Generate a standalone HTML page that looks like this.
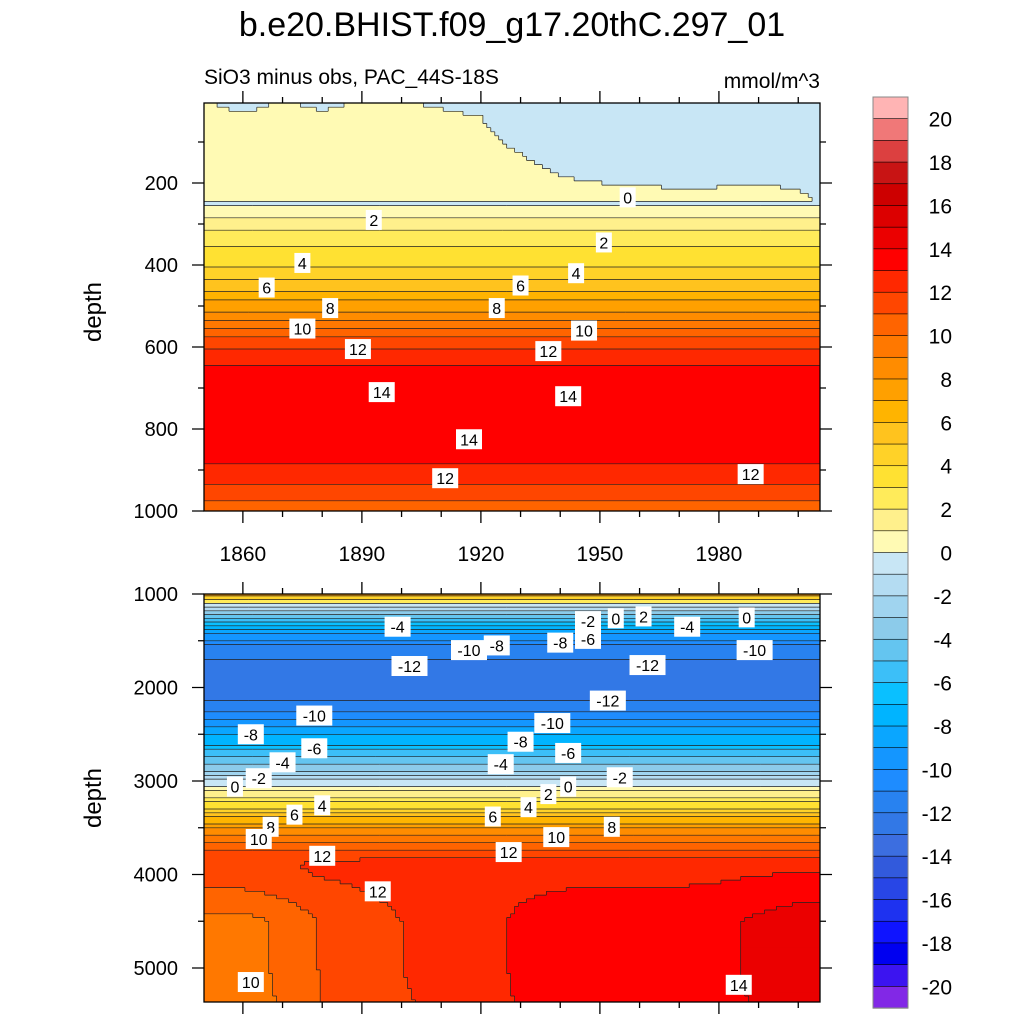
<!DOCTYPE html>
<html><head><meta charset="utf-8"><style>
body{margin:0;background:#fff}
svg{display:block;font-family:"Liberation Sans",Arial,sans-serif}
</style></head><body>
<svg id="chart" width="1024" height="1024" viewBox="0 0 1024 1024" xmlns="http://www.w3.org/2000/svg">
<text x="512" y="36" font-size="34" text-anchor="middle">b.e20.BHIST.f09_g17.20thC.297_01</text>
<text x="204" y="84" font-size="21">SiO3 minus obs, PAC_44S-18S</text>
<text x="820" y="88" font-size="21" text-anchor="end">mmol/m^3</text>
<text x="0" y="0" font-size="24" text-anchor="middle" transform="translate(101,312) rotate(-90)">depth</text>
<text x="0" y="0" font-size="24" text-anchor="middle" transform="translate(101,798) rotate(-90)">depth</text>
<defs>
<clipPath id="clipTop"><rect x="204" y="103" width="616" height="408"/></clipPath>
<clipPath id="clipBot"><rect x="204" y="594" width="616" height="408"/></clipPath>
</defs>
<g id="topField" clip-path="url(#clipTop)"></g>
<g id="botField" clip-path="url(#clipBot)"></g>
<g id="labels"></g>
<g id="axes"></g>
<g id="colorbar"></g>
</svg>
<script>
// ---- data ----
const topDepths = [0,100,150,200,250,300,350,400,450,500,550,600,650,700,750,800,850,900,950,1000];
const topValues = [0.4,0.3,0.25,0.15,0.0,1.6,3.0,4.0,5.6,7.4,9.8,11.9,13.2,13.7,13.8,13.8,13.6,12.8,11.6,10.6];
const blueYears = [1850,1860,1870,1880,1890,1900,1910,1920,1925,1930,1940,1950,1960,1970,1980,1990,2000,2005];
const blueDepth = [0,30,0,25,0,0,20,40,100,130,185,200,205,215,210,205,215,250];
const botDepths = [1000,1050,1100,1150,1200,1300,1400,1500,1600,1700,1800,1900,2000,2100,2200,2300,2400,2500,2600,2700,2800,2900,3000,3100,3200,3300,3400,3500,3600,3700,3800,3900,4000,4500,5000,5365];
const botValues = [8,4,1,-1.5,-3,-5.5,-8.5,-10.3,-11.5,-12,-12.5,-12.8,-12.7,-12.3,-11.5,-10.6,-9.4,-8.2,-7,-5.6,-4.2,-2.8,-0.9,0.8,2.4,4.4,6.3,7.9,9.3,10.6,11.9,12.3,12.5,12.6,12.6,12.5];
const deepYears = [1850,1860,1870,1880,1890,1900,1910,1920,1930,1940,1950,1960,1970,1980,1990,2000,2005];
const deepAnom = [-3.0,-3.0,-2.4,-1.5,-1.0,-0.6,-0.3,0,0.6,0.9,1.0,1.0,1.0,1.2,1.6,2.0,2.0];
const cbLabels = [20,18,16,14,12,10,8,6,4,2,0,-2,-4,-6,-8,-10,-12,-14,-16,-18,-20];
const colors = ["#ffb4b4","#f07878","#dc4040","#c81414","#cd0000","#dc0000","#eb0000","#ff0000","#ff2800","#ff4600","#ff6400","#ff7800","#ff8c00","#ffa000","#ffb400","#ffc31e","#ffd228","#ffe132","#ffeb5a","#fff08c","#fffab4",
"#c8e6f5","#b4dcf2","#a0d4ef","#8ccbea","#64c5f0","#3cbff8","#0ac0ff","#00b4ff","#0aa6ff","#1496ff","#1e8cff","#2882f0","#3278e6","#3c6ee0","#325adc","#2846e6","#1e32f0","#0f14ff","#0000f0","#3c14f0","#8228e6"];
const topLabelText = ["0","2","2","4","4","6","6","8","8","10","10","12","12","14","14","14","12","12"];
const topLabelYear = [1957,1893,1951,1875,1944,1866,1930,1882,1924,1875,1946,1889,1937,1895,1942,1917,1911,1988];
const topLabelDepth = [235,290,345,395,420,455,450,505,505,555,560,605,610,710,720,825,920,910];
const botLabelText = ["-4","-2","0","2","-4","0","-8","-10","-8","-6","-10","-12","-12","-12","-10","-10","-8","-6","-4","-2","0","-8","-6","-4","-2","0","2","4","6","4","6","8","10","8","10","12","12","12","10","14"];
const botLabelYear = [1899,1947,1954,1961,1972,1987,1924,1917,1940,1947,1989,1902,1962,1952,1878,1938,1862,1878,1870,1864,1858,1930,1942,1925,1955,1942,1937,1880,1873,1932,1923,1867,1864,1953,1939,1880,1927,1894,1862,1985];
const botLabelDepth = [1350,1290,1260,1240,1350,1250,1550,1600,1520,1480,1600,1770,1760,2140,2300,2380,2500,2650,2800,2970,3060,2580,2700,2820,2960,3060,3140,3260,3360,3280,3380,3490,3620,3490,3600,3800,3760,4180,5150,5180];

// ---- scales ----
const X0=204, X1=820;
function xs(yr){return X0+(yr-1850.2)*3.967;}
function yTop(d){return 101+d*0.41;}
function yBot(d){return 594+(d-1000)*0.0935;}
function interp(xa,ya,x){
  if(x<=xa[0])return ya[0];
  for(let i=1;i<xa.length;i++){if(x<=xa[i]){const t=(x-xa[i-1])/(xa[i]-xa[i-1]);return ya[i-1]+t*(ya[i]-ya[i-1]);}}
  return ya[ya.length-1];
}
function bin(v){let k=Math.floor(21-v);return Math.max(0,Math.min(41,k));}
const NS="http://www.w3.org/2000/svg";
function mk(tag,attrs,parent){const e=document.createElementNS(NS,tag);for(const k in attrs)e.setAttribute(k,attrs[k]);parent.appendChild(e);return e;}

function drawField(g,d0,d1,step,yf,valFn,name){
  const years=[];for(let y=1850;y<=2005;y++)years.push(y);
  const rows=[];for(let d=d0;d<=d1+step;d+=step)rows.push(d);
  const grid=[];
  rows.forEach((d,ri)=>{grid.push(years.map(yr=>bin(valFn(yr,d))));});
  let lines="";
  rows.forEach((d,ri)=>{
    const ya=yf(d-step/2), yb=yf(d+step/2);
    let start=0;
    for(let ci=1;ci<=years.length;ci++){
      if(ci===years.length||grid[ri][ci]!==grid[ri][start]){
        const xa=xs(years[start]-0.5), xb=xs(years[ci-1]+0.5);
        const r=mk('rect',{x:xa.toFixed(2),y:ya.toFixed(2),width:(xb-xa+0.6).toFixed(2),height:(yb-ya+0.6).toFixed(2),fill:colors[grid[ri][start]]},g);
        
        
        start=ci;
      }
    }
    if(ri>0){
      for(let ci=0;ci<years.length;ci++){
        if(grid[ri][ci]!==grid[ri-1][ci]){lines+=`M${xs(years[ci]-0.5).toFixed(1)},${ya.toFixed(1)}H${xs(years[ci]+0.5).toFixed(1)}`;}
      }
    }
    for(let ci=1;ci<years.length;ci++){
      if(grid[ri][ci]!==grid[ri][ci-1]){lines+=`M${xs(years[ci]-0.5).toFixed(1)},${ya.toFixed(1)}V${yb.toFixed(1)}`;}
    }
  });
  const p=mk('path',{d:lines,stroke:'#222',"stroke-width":0.7,fill:'none'},g);
  
  
}
function topVal(yr,d){
  let v=interp(topDepths,topValues,d);
  const bd=interp(blueYears,blueDepth,yr);
  if(d<bd) v=-0.5;
  return v;
}
function botVal(yr,d){
  let v=interp(botDepths,botValues,d);
  const w=Math.max(0,Math.min(1,(d-3800)/700));
  return v+w*interp(deepYears,deepAnom,yr);
}
drawField(document.getElementById('topField'),0,1000,10,yTop,topVal,'top');
drawField(document.getElementById('botField'),1000,5365,40,yBot,botVal,'bottom');

// contour labels
const lg=document.getElementById('labels');
function label(txt,x,y){
  const g=mk('g',{},lg);
  
  
  const w=txt.length*10+6;
  mk('rect',{x:x-w/2,y:y-10,width:w,height:20,fill:'#fff'},g);
  const t=mk('text',{x:x,y:y+6,"font-size":16,"text-anchor":"middle"},g);t.textContent=txt;
}
topLabelText.forEach((t,i)=>label(t,xs(topLabelYear[i]),yTop(topLabelDepth[i])));
botLabelText.forEach((t,i)=>label(t,xs(botLabelYear[i]),yBot(botLabelDepth[i])));

// axes
const ax=document.getElementById('axes');
function frame(y0,y1,name){
  const r=mk('rect',{x:X0,y:y0,width:X1-X0,height:y1-y0,fill:'none',stroke:'#000',"stroke-width":1.3},ax);
  
  
}
frame(103,511,'top-panel');frame(594,1002,'bottom-panel');
let tp="";
for(let yr=1860;yr<=2000;yr+=10){
  const x=xs(yr), L=(yr-1860)%30===0?12:6;
  tp+=`M${x},511v${L}M${x},103v${-L}M${x},594v${-L}M${x},1002v${L}`;
}
for(let d=100;d<=1000;d+=100){const y=yTop(d),L=d%200===0?12:6;if(y>=103)tp+=`M${X0},${y}h${-L}M${X1},${y}h${L}`;}
for(let d=1000;d<=5300;d+=500){const y=yBot(d),L=d%1000===0?12:6;tp+=`M${X0},${y}h${-L}M${X1},${y}h${L}`;}
const tk=mk('path',{d:tp,stroke:'#000',"stroke-width":1.3,fill:'none'},ax);


for(let yr=1860;yr<=1980;yr+=30){
  const t=mk('text',{x:xs(yr),y:561,"font-size":21,"text-anchor":"middle"},ax);t.textContent=yr;
  
  
}
for(let d=200;d<=1000;d+=200){
  const t=mk('text',{x:178,y:yTop(d)+7,"font-size":20,"text-anchor":"end"},ax);t.textContent=d;
  
  
}
for(let d=1000;d<=5000;d+=1000){
  const t=mk('text',{x:178,y:yBot(d)+7,"font-size":20,"text-anchor":"end"},ax);t.textContent=d;
  
  
}

// colorbar
const cb=document.getElementById('colorbar');
const CB0=97, CBH=911/42;
colors.forEach((c,i)=>{
  const r=mk('rect',{x:873,y:CB0+i*CBH,width:35,height:CBH+0.3,fill:c,stroke:'#000',"stroke-width":0.6},cb);
  
  
});
mk('rect',{x:873,y:CB0,width:35,height:911,fill:'none',stroke:'#888',"stroke-width":1},cb);
cbLabels.forEach(v=>{
  const idx=21-v;
  const t=mk('text',{x:952,y:CB0+idx*CBH+8,"font-size":21,"text-anchor":"end"},cb);t.textContent=v;
  
  
});
</script>
</body></html>
